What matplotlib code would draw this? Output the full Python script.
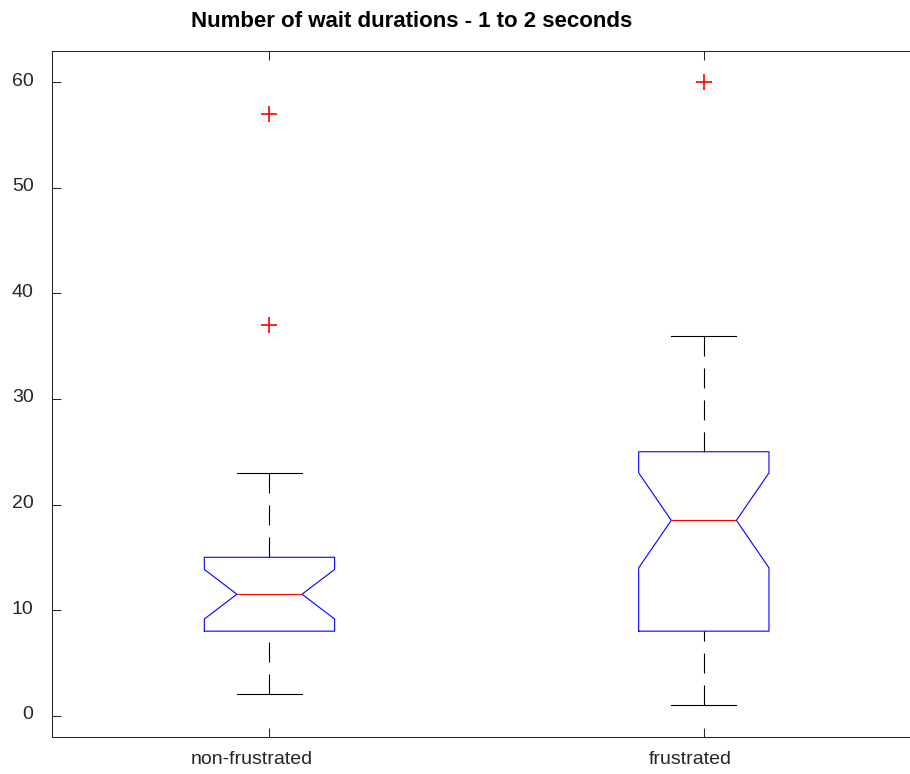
import matplotlib
matplotlib.use("Agg")
import matplotlib.pyplot as plt
import matplotlib.transforms as mtransforms

# ---- data ----
categories = ["non-frustrated", "frustrated"]
medians = [11.5, 18.5]
q1 = [8, 8]
q3 = [15, 25]
whislo = [2, 1]
whishi = [23, 36]
notch_lo = [9.15, 14.0]
notch_hi = [13.85, 23.0]
fliers = [[37, 57], [60]]
yticks = [0, 10, 20, 30, 40, 50, 60]
title = "Number of wait durations - 1 to 2 seconds"

plt.rcParams["font.family"] = ["Liberation Sans", "DejaVu Sans"]
plt.rcParams["lines.scale_dashes"] = False

W, H = 910, 774
fig = plt.figure(figsize=(W / 100, H / 100), dpi=100)
ax = fig.add_axes([52.3 / W, 37.3 / H, 868.7 / W, 686 / H])

stats = []
for i, cat in enumerate(categories):
    stats.append(dict(med=medians[i], q1=q1[i], q3=q3[i], whislo=whislo[i],
                      whishi=whishi[i], cilo=notch_lo[i], cihi=notch_hi[i],
                      fliers=fliers[i], label=cat))

positions = list(range(1, len(categories) + 1))
res = ax.bxp(stats, positions=positions, widths=0.3, shownotches=True,
             boxprops=dict(color="#0000ff", linewidth=0.8),
             medianprops=dict(color="#ff0000", linewidth=0.8),
             whiskerprops=dict(color="black", linewidth=0.8,
                               linestyle=(0, (14.4, 8.6))),
             capprops=dict(color="black", linewidth=0.8),
             flierprops=dict(marker="+", markeredgecolor="#ff0000",
                             markersize=11.5, markeredgewidth=1.2,
                             linestyle="none"))
# MATLAB draws whiskers starting from the caps
for w in res["whiskers"]:
    w.set_ydata(list(w.get_ydata())[::-1])

ax.set_xlim(0.5, 2.5)
ax.set_ylim(-2, 63)
ax.set_yticks(yticks)
ax.set_xticks(positions)
ax.tick_params(axis="both", direction="in", length=6.5, width=0.75,
               color="#262626", labelcolor="#262626", labelsize=14)
ax.tick_params(axis="y", pad=13.5)
ax.tick_params(axis="x", top=True, labelbottom=False)
for s in ax.spines.values():
    s.set_color("#262626")
    s.set_linewidth(0.75)

# y tick labels sit slightly above their ticks in the reference
up = mtransforms.ScaledTranslation(0, 3 / 100, fig.dpi_scale_trans)
for lbl in ax.get_yticklabels():
    lbl.set_transform(lbl.get_transform() + up)

label_dx = [-18, -14]
for pos, cat, dx in zip(positions, categories, label_dx):
    tr = mtransforms.blended_transform_factory(ax.transData, ax.transAxes)
    tr = tr + mtransforms.ScaledTranslation(dx / 100, -14 / 100, fig.dpi_scale_trans)
    ax.text(pos, 0, cat, transform=tr, ha="center", va="top",
            fontsize=14, color="#262626")

fig.text(412 / W, (H - 26.7) / H, title, ha="center", va="baseline",
         fontsize=16, fontweight="bold", color="black")

fig.savefig("out.png", dpi=100)
